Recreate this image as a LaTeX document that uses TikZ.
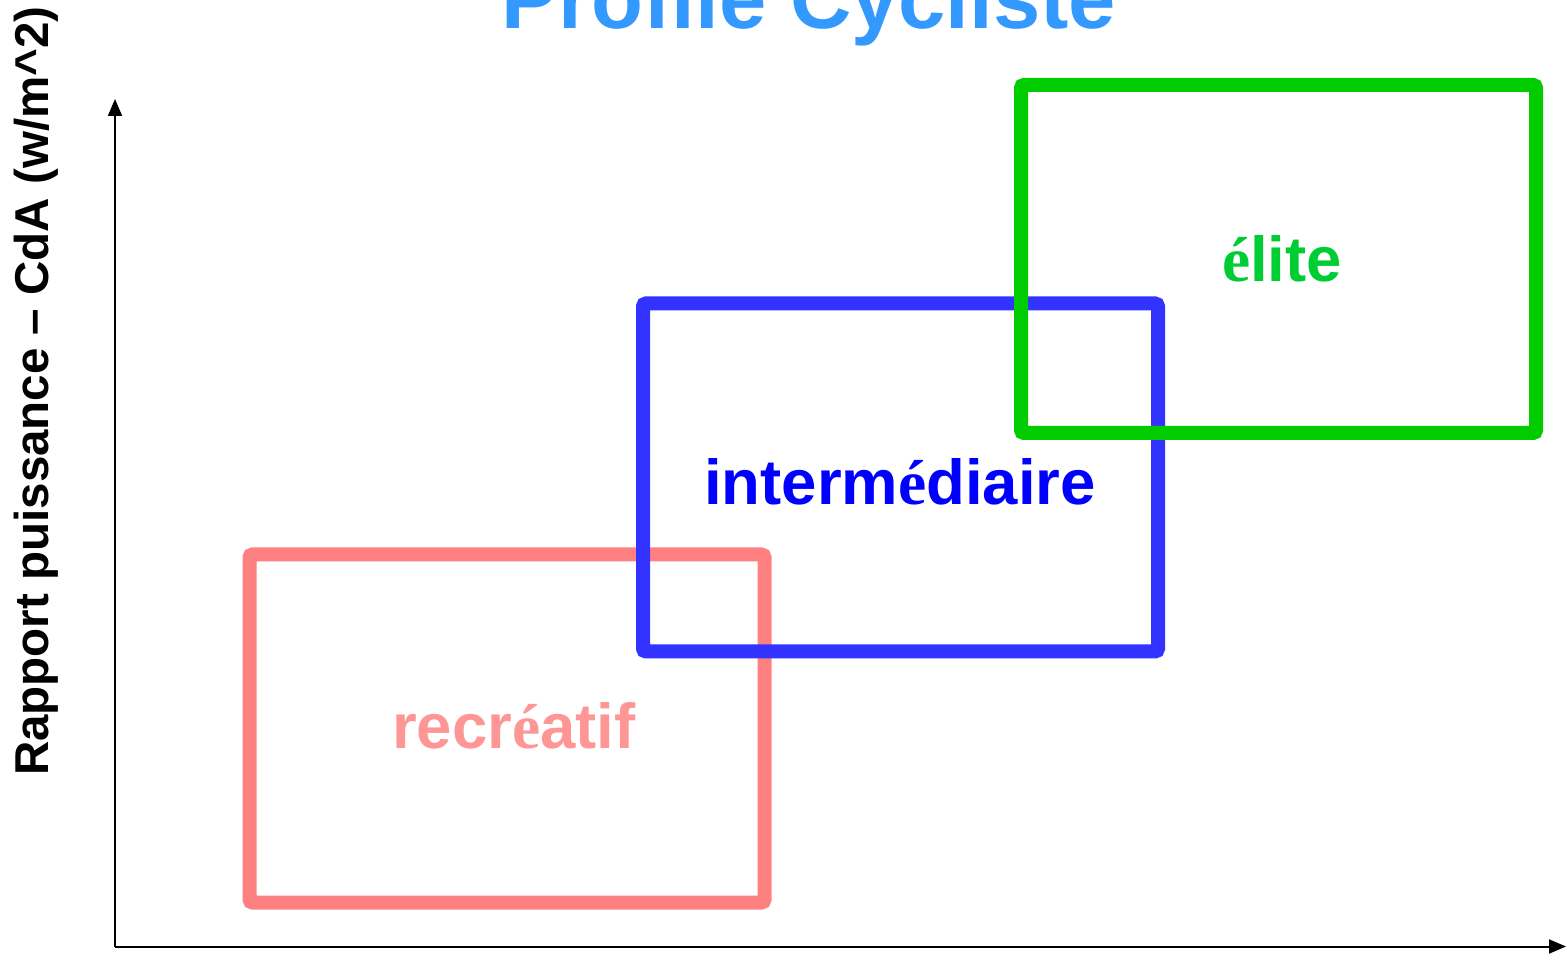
\documentclass[tikz,border=0pt]{standalone}
\usepackage{fontspec}
\setmainfont{Liberation Sans}
\newfontfamily\serifacc{Liberation Serif}
\usetikzlibrary{arrows.meta}
\definecolor{titleblue}{RGB}{51,153,255}
\definecolor{recbox}{RGB}{255,128,128}
\definecolor{rectext}{RGB}{255,150,150}
\definecolor{intbox}{RGB}{51,51,255}
\definecolor{inttext}{RGB}{0,0,255}
\definecolor{elbox}{RGB}{0,204,0}
\definecolor{eltext}{RGB}{0,204,51}
\newcommand{\acce}{{\serifacc\bfseries é}}
\begin{document}
\begin{tikzpicture}[x=1pt,y=1pt,
  zone/.style={draw=#1,line width=14pt,rounded corners=3pt,inner sep=0pt,
    minimum width=515pt,minimum height=348pt,rectangle},
  zonelabel/.style={text=#1,font=\fontsize{63.5}{70}\selectfont\bfseries,inner sep=0pt,anchor=base},
  axis/.style={draw=black,line width=2pt,-{Triangle[length=17pt,width=14pt]}}]
\useasboundingbox (0,0) rectangle (1568,953);
% axes
\coordinate (origin) at (115,6.5);
\coordinate (ytip) at (115,854);
\coordinate (xtip) at (1566,6.5);
\draw[axis] (origin) -- (ytip);
\draw[axis] (origin) -- (xtip);
% zones
\node[zone=recbox] (rec) at (507,224.5) {};
\node[zone=intbox] (int) at (900.5,475.5) {};
\node[zone=elbox] (el) at (1278.5,694) {};
% labels
\node[zonelabel=rectext] (reclbl) at (514,204) {recr\acce atif};
\node[zonelabel=inttext] (intlbl) at (900,448) {interm\acce diaire};
\node[zonelabel=eltext] (ellbl) at (1282,671) {\acce lite};
% title
\node[text=titleblue,font=\fontsize{85}{90}\selectfont\bfseries,inner sep=0pt,anchor=base] (title) at (809,924) {Profile Cycliste};
% y label
\node[font=\fontsize{47.5}{55}\selectfont\bfseries,inner sep=0pt,rotate=90,anchor=base west] (ylbl) at (48,177) {Rapport puissance – CdA (w/m\^{}2)};
\end{tikzpicture}
\end{document}
